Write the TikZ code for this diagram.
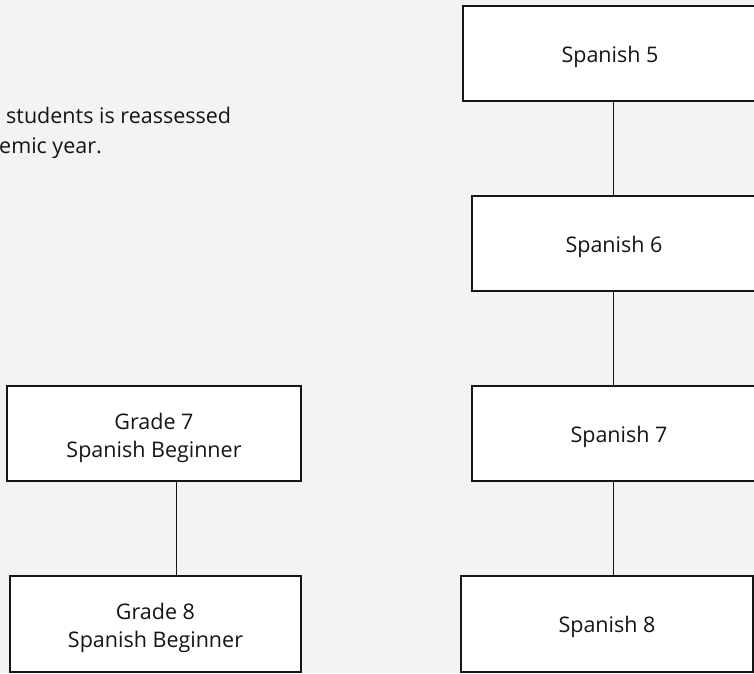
\documentclass[tikz,border=0pt]{standalone}
\usepackage{fontspec}
\setmainfont{Open Sans}
\definecolor{pagebg}{HTML}{F1F4F3}
\definecolor{ink}{HTML}{151515}
\begin{document}
\begin{tikzpicture}[x=1pt,y=-1pt,
  course/.style={draw=ink,line width=1.6pt,fill=white,rectangle,inner sep=0pt},
  caption/.style={inner sep=0pt,align=center,text=ink,
    font=\fontsize{21.5}{28}\selectfont},
  link/.style={draw=ink,line width=1pt},
  note/.style={anchor=base west,inner sep=0pt,text=ink,
    font=\fontsize{21.5}{28}\selectfont}]
  % page and clipping frame
  \fill[pagebg] (0,0) rectangle (754,673);
  \useasboundingbox (0,0) rectangle (754,673);
  \clip (0,0) rectangle (754,673);

  % introductory note, running off the left edge
  \node[note] (n1) at (6,123) {students is reassessed};
  \node[note] (n2) at (-1,153) {emic year.};

  % right column: Spanish 5 to 8
  \node[course,minimum width=294pt,minimum height=95pt] (s5) at (610,53.5) {};
  \node[course,minimum width=284pt,minimum height=95pt] (s6) at (614,243.5) {};
  \node[course,minimum width=294pt,minimum height=95pt] (s7) at (619,433.5) {};
  \node[course,minimum width=292pt,minimum height=96pt] (s8) at (607,624) {};

  % left column: beginner track
  \node[course,minimum width=294pt,minimum height=95pt] (g7) at (154,433.5) {};
  \node[course,minimum width=291pt,minimum height=96pt] (g8) at (155.5,624) {};

  % box captions, set slightly below the geometric centre
  \node[caption] (s5t) at ([yshift=-3pt]s5.center) {Spanish 5};
  \node[caption] (s6t) at ([yshift=-3pt]s6.center) {Spanish 6};
  \node[caption] (s7t) at ([yshift=-3pt]s7.center) {Spanish 7};
  \node[caption] (s8t) at ([yshift=-3pt]s8.center) {Spanish 8};
  \node[caption] (g7t) at ([yshift=-4pt]g7.center) {Grade 7\\Spanish Beginner};
  \node[caption] (g8t) at ([yshift=-4pt]g8.center) {Grade 8\\Spanish Beginner};

  % vertical guides for the connectors
  \coordinate (rspine) at (613,0);
  \coordinate (lspine) at (176,0);

  \draw[link] (s5.south -| rspine) -- (s6.north -| rspine);
  \draw[link] (s6.south -| rspine) -- (s7.north -| rspine);
  \draw[link] (s7.south -| rspine) -- (s8.north -| rspine);
  \draw[link] (g7.south -| lspine) -- (g8.north -| lspine);
\end{tikzpicture}
\end{document}
